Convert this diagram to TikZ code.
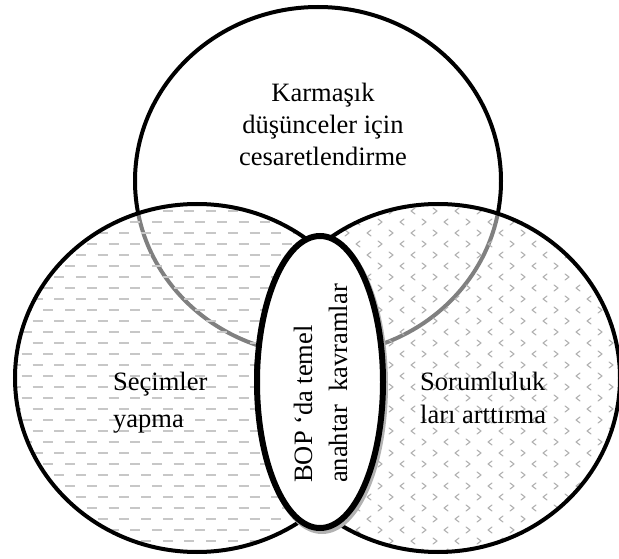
\documentclass[tikz,border=0pt]{standalone}
\usepackage{fontspec}
\setmainfont{Liberation Serif}
\begin{document}
\begin{tikzpicture}[x=1pt,y=-1pt,
  ring/.style={draw=black, line width=4pt},
  core/.style={draw=black, line width=6pt, fill=white},
  coreshadow/.style={draw=black!30, line width=6pt},
  label/.style={font=\fontsize{26.5}{32}\selectfont, inner sep=0pt, text=black},
  veil/.style={fill=white, opacity=0.5},
  dashfill/.style={draw=black!22, line width=2pt},
  divot/.style={draw=black!30, line width=1.1pt, line cap=round, line join=round}
]
\useasboundingbox (0,0) rectangle (619,559);

% upper circle
\draw[ring, fill=white] (318,181) ellipse [x radius=183, y radius=174];

% left circle: half-transparent veil with dashed horizontal fill
\begin{scope}
  \clip (197,378) ellipse [x radius=182, y radius=174];
  \fill[veil] (0,0) rectangle (619,559);
  \foreach \k in {0,...,33} {
    \pgfmathsetmacro\yy{200+11*\k}
    \pgfmathsetmacro\ph{mod(\k,2)*10.85}
    \draw[dashfill, dash pattern=on 10pt off 11.7pt, dash phase=\ph pt] (0,\yy) -- (400,\yy);
  }
\end{scope}
\draw[ring] (197,378) ellipse [x radius=182, y radius=174];

% right circle: half-transparent veil with small chevrons
\begin{scope}
  \clip (438,378) ellipse [x radius=182, y radius=174];
  \fill[veil] (0,0) rectangle (619,559);
  \foreach \k in {0,...,33} {
    \foreach \j in {0,...,17} {
      \pgfmathsetmacro\xx{248+22*\j+11*mod(\k,2)}
      \pgfmathsetmacro\yy{200+11*\k}
      \pgfmathsetmacro\dx{ifthenelse(mod(\j,2)==0,2,-2)}
      \draw[divot] (\xx-\dx,\yy-3) -- (\xx+\dx,\yy) -- (\xx-\dx,\yy+3);
    }
  }
\end{scope}
\draw[ring] (438,378) ellipse [x radius=182, y radius=174];

% central ellipse with its soft shadow
\draw[coreshadow] (322,385) ellipse [x radius=63, y radius=146];
\draw[core] (320,382) ellipse [x radius=63, y radius=146];

% labels
\node[label, anchor=base] (k1) at (323,102) {Karmaşık};
\node[label, anchor=base] (k2) at (323,134) {düşünceler için};
\node[label, anchor=base] (k3) at (323,166) {cesaretlendirme};

\node[label, anchor=base west] (s1) at (113,390) {Seçimler};
\node[label, anchor=base west] (s2) at (113,427) {yapma};

\node[label, anchor=base west] (r1) at (420,390) {Sorumluluk};
\node[label, anchor=base west] (r2) at (420,423) {ları arttırma};

\node[label, rotate=90, anchor=base west] (b1) at (312,483) {BOP ‘da temel};
\node[label, rotate=90, anchor=base west] (b2) at (347,483) {anahtar\ \ kavramlar};
\end{tikzpicture}
\end{document}
